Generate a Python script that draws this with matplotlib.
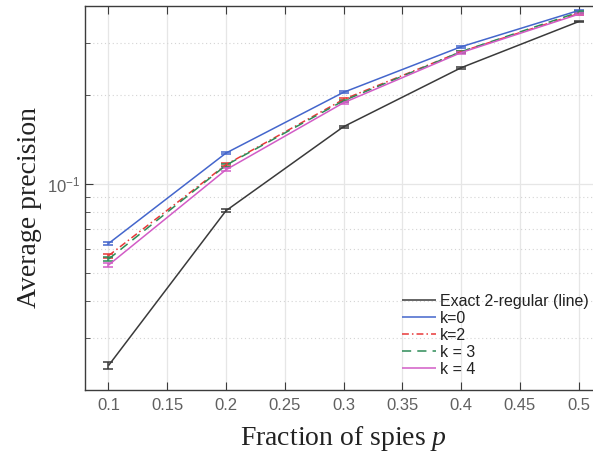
import numpy as np
import matplotlib
matplotlib.use('Agg')
import matplotlib.pyplot as plt
from matplotlib.ticker import NullFormatter, FixedLocator

plt.rcParams['mathtext.default'] = 'regular'
plt.rcParams['mathtext.fontset'] = 'custom'
plt.rcParams['mathtext.it'] = 'Liberation Serif:italic'
plt.rcParams['mathtext.rm'] = 'Liberation Serif'

# fraction of spies
p = [0.1, 0.2, 0.3, 0.4, 0.5]

exact = [0.0242, 0.081, 0.156, 0.247, 0.354]
exact_err = [0.0007, 0.0009, 0.0012, 0.0015, 0.002]
k0 = [0.0627, 0.127, 0.204, 0.291, 0.386]
k0_err = [0.0007, 0.0012, 0.0016, 0.0018, 0.003]
k2 = [0.057, 0.116, 0.193, 0.280, 0.377]
k2_err = [0.0009, 0.0014, 0.0018, 0.002, 0.003]
k3 = [0.0555, 0.1155, 0.191, 0.280, 0.381]
k3_err = [0.0008, 0.0013, 0.0018, 0.002, 0.003]
k4 = [0.053, 0.1115, 0.188, 0.278, 0.375]
k4_err = [0.0009, 0.0014, 0.0018, 0.002, 0.003]

labels = ['Exact 2-regular (line)', 'k=0', 'k=2', 'k = 3', 'k = 4']

fig = plt.figure(figsize=(5.93, 4.57), dpi=100)
ax = fig.add_axes([85/593, 67/457, 517/593, 384/457])

series = [
    (exact, exact_err, '#3a3a3a', (0, ())),
    (k0, k0_err, '#4466cc', (0, ())),
    (k2, k2_err, '#e83838', (0, (4.5, 2, 1, 2))),
    (k3, k3_err, '#2e8b57', (0, (6, 4))),
    (k4, k4_err, '#d25cc6', (0, ())),
]
handles = []
for (vals, err, col, ls), lab in zip(series, labels):
    h = ax.errorbar(p, vals, yerr=err, color=col, linestyle=ls, linewidth=1.1,
                    elinewidth=1.1, capsize=3.5, capthick=1.1, label=lab)
    handles.append(h.lines[0])

ax.set_yscale('log')
ax.set_xlim(0.08, 0.52)
ax.set_ylim(0.02, 0.4)
ax.set_xticks([0.1, 0.15, 0.2, 0.25, 0.3, 0.35, 0.4, 0.45, 0.5])
ax.set_xticklabels(['0.1', '0.15', '0.2', '0.25', '0.3', '0.35', '0.4', '0.45', '0.5'])
ax.yaxis.set_major_locator(FixedLocator([0.1]))
ax.yaxis.set_minor_locator(FixedLocator([0.03, 0.04, 0.05, 0.06, 0.07, 0.08, 0.09, 0.2, 0.3]))
ax.yaxis.set_minor_formatter(NullFormatter())
ax.set_yticklabels(['$10^{-1}$'])

ax.grid(True, which='major', color='#e6e6e6', linewidth=0.9, linestyle='-')
ax.grid(True, which='minor', axis='y', color='#d4d4d4', linewidth=0.8, linestyle=(0, (1, 2.5)))
ax.set_axisbelow(True)

for s in ['left', 'top', 'bottom']:
    ax.spines[s].set_color('#3c3c3c')
    ax.spines[s].set_linewidth(1.0)
ax.spines['right'].set_visible(False)

ax.tick_params(which='both', direction='in', top=True, right=False, colors='#3c3c3c',
               labelcolor='#606060', labelsize=12)
ax.tick_params(which='major', length=6)
ax.tick_params(which='minor', length=3.5)
for t in ax.get_xticklabels() + ax.get_yticklabels():
    t.set_fontfamily('Liberation Sans')
ax.tick_params(axis='x', pad=6)

ax.set_xlabel('Fraction of spies $\\mathit{p}$', fontsize=20, fontfamily='Liberation Serif',
              color='#222222', labelpad=8)
ax.set_ylabel('Average precision', fontsize=20, fontfamily='Liberation Serif',
              color='#222222')
ax.yaxis.set_label_coords(-0.083, 0.475)

leg = fig.legend(handles, labels, loc='upper left', bbox_to_anchor=(394/593, 1 - 286/457),
                 frameon=False, borderpad=0, handlelength=2.1, handletextpad=0.25,
                 labelspacing=0.12, prop={'family': 'Liberation Sans', 'size': 11.5})
for t in leg.get_texts():
    t.set_color('#222222')

fig.savefig('out.png', dpi=100)
